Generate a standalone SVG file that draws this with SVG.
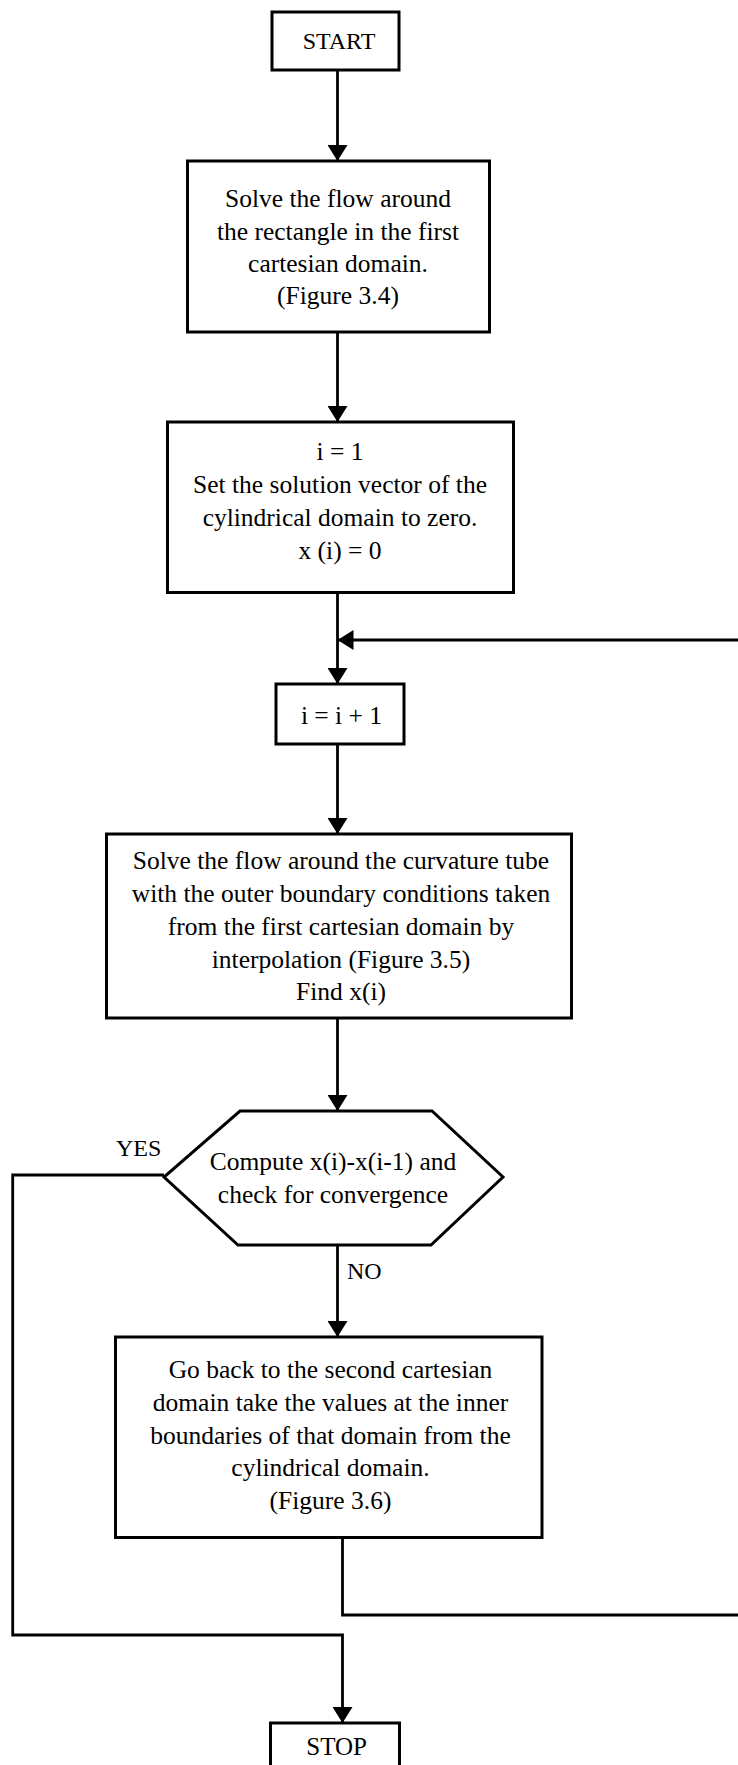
<svg xmlns="http://www.w3.org/2000/svg" width="738" height="1765" viewBox="0 0 738 1765">
<defs>
<style>
.box{fill:#fff;stroke:#000;stroke-width:3;stroke-linejoin:miter}
.ln{fill:none;stroke:#000;stroke-width:2.8}
.t{font-family:"Liberation Serif","Times New Roman",serif;font-size:25.5px;fill:#000;text-anchor:middle}
.s{font-family:"Liberation Serif","Times New Roman",serif;font-size:24px;fill:#000;text-anchor:middle}
.lbl{font-family:"Liberation Serif","Times New Roman",serif;font-size:24px;fill:#000}
</style>
<marker id="ah" viewBox="0 0 16 20" refX="16" refY="10" markerWidth="16" markerHeight="20" markerUnits="userSpaceOnUse" orient="auto">
<path d="M0,0 L16,10 L0,20 Z" fill="#000"/>
</marker>
</defs>
<rect width="738" height="1765" fill="#fff"/>
<g id="connectors">
<line class="ln" x1="337.5" y1="70" x2="337.5" y2="161" marker-end="url(#ah)"/>
<line class="ln" x1="337.5" y1="332" x2="337.5" y2="422" marker-end="url(#ah)"/>
<line class="ln" x1="337.5" y1="592" x2="337.5" y2="684" marker-end="url(#ah)"/>
<line class="ln" x1="337.5" y1="744" x2="337.5" y2="834" marker-end="url(#ah)"/>
<line class="ln" x1="337.5" y1="1018" x2="337.5" y2="1111" marker-end="url(#ah)"/>
<line class="ln" x1="337.5" y1="1245" x2="337.5" y2="1337" marker-end="url(#ah)"/>
<path class="ln" d="M342.5,1537 V1615 H750 V640 H337.5" marker-end="url(#ah)"/>
<path class="ln" d="M164,1175 H12.7 V1635 H342.5 V1723" marker-end="url(#ah)"/>
<text class="lbl" x="116" y="1156">YES</text>
<text class="lbl" x="347" y="1279">NO</text>
</g>
<g id="start">
<rect class="box" x="272" y="12" width="127" height="58"/>
<text class="s" x="339" y="49">START</text>
</g>
<g id="solve-rect">
<rect class="box" x="187.5" y="161" width="302" height="171"/>
<text class="t" x="338" y="207">Solve the flow around</text>
<text class="t" x="338" y="239.5">the rectangle in the first</text>
<text class="t" x="338" y="272">cartesian domain.</text>
<text class="t" x="338" y="304">(Figure 3.4)</text>
</g>
<g id="init">
<rect class="box" x="167.5" y="422" width="346" height="170.5"/>
<text class="t" x="340" y="460">i = 1</text>
<text class="t" x="340" y="493">Set the solution vector of the</text>
<text class="t" x="340" y="526">cylindrical domain to zero.</text>
<text class="t" x="340" y="559">x (i) = 0</text>
</g>
<g id="increment">
<rect class="box" x="276" y="684" width="128" height="60"/>
<text class="t" x="341.5" y="724">i = i + 1</text>
</g>
<g id="solve-tube">
<rect class="box" x="106.5" y="834" width="465" height="184"/>
<text class="t" x="341" y="869">Solve the flow around the curvature tube</text>
<text class="t" x="341" y="902">with the outer boundary conditions taken</text>
<text class="t" x="341" y="935">from the first cartesian domain by</text>
<text class="t" x="341" y="968">interpolation (Figure 3.5)</text>
<text class="t" x="341" y="1000">Find x(i)</text>
</g>
<g id="check">
<polygon class="box" points="240,1111 432,1111 503,1177 431,1245 238,1245 164,1177"/>
<text class="t" x="333" y="1170">Compute x(i)-x(i-1) and</text>
<text class="t" x="333" y="1203">check for convergence</text>
</g>
<g id="go-back">
<rect class="box" x="115.5" y="1337" width="426.5" height="200.5"/>
<text class="t" x="330.5" y="1378">Go back to the second cartesian</text>
<text class="t" x="330.5" y="1411">domain take the values at the inner</text>
<text class="t" x="330.5" y="1443.5">boundaries of that domain from the</text>
<text class="t" x="330.5" y="1476">cylindrical domain.</text>
<text class="t" x="330.5" y="1508.5">(Figure 3.6)</text>
</g>
<g id="stop">
<rect class="box" x="270.5" y="1723" width="129" height="60"/>
<text class="s" x="336.7" y="1755" style="font-size:25px">STOP</text>
</g>
</svg>
